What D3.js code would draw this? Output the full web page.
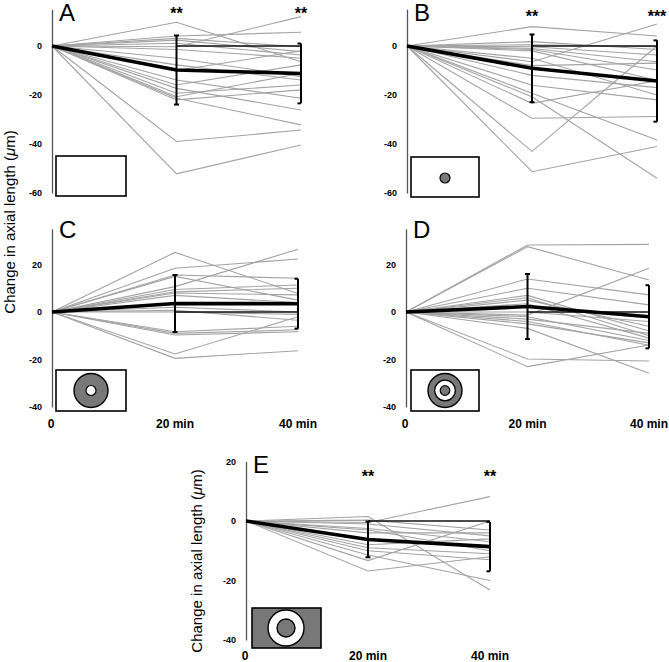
<!DOCTYPE html>
<html>
<head>
<meta charset="utf-8">
<script src="https://cdn.jsdelivr.net/npm/d3@7"></script>
<style>
  html, body { margin: 0; padding: 0; background: #fff; }
  svg { display: block; }
  text { font-family: Arial, "Liberation Sans", Helvetica, sans-serif; }
</style>
</head>
<body>
<svg id="chart" width="669" height="662"></svg>
<script>
// ---------------- DATA ----------------
const times = [0, 20, 40];
const xLabels = ["0", "20 min", "40 min"];
const yTitle = "Change in axial length (";

// individual subjects: change at 20 min and at 40 min (µm)
const a20 = [9.7, 4.1, 2.4, 1.1, -0.3, -1.4, 3.1, -7.7, -13.9, -5, -15.9, -17.3, -19.3, -20.7, -21.3, -22, -39, -52.2, -10];
const a40 = [-6.4, 5.6, -2.3, -3.7, 12, -5, -0.3, -13.9, -21.3, -12.5, -7.7, -26.1, -15.9, -11.1, -32.2, -17.9, -34.3, -40.4, -2];
const aMean = [0, -9.8, -11.2];
const aSD = [0, 14.1, 12.2];
const aStars = ["**", "**"];

const b20 = [7.9, 1.8, 0.5, -0.3, -1, -1.4, -2, -6.4, -8, -12, -16, -19.3, -20.7, -23.4, -29.5, -43, -51.3, -5];
const b40 = [4.1, -1.4, -0.3, -3.7, -6.4, -9.8, -14, 9, -7, -17, -22, -38.4, -54, -14.2, -28.8, 0, -41, -20];
const bMean = [0, -9.1, -14.3];
const bSD = [0, 13.8, 16.6];
const bStars = ["**", "***"];

const c20 = [25.1, 18.4, 15.6, 15, 10.7, 9.5, 8.5, 8, 7, 0.7, 0, -8.3, -9, -9.7, -17.7, -19.5, 2];
const c40 = [7.8, 22.3, 14.2, 5, 26.4, 11.4, 10, 7.2, 4, -3.5, -1, -6, -7.5, -8.3, -2, -16.3, 0];
const cMean = [0, 3.6, 3.5];
const cSD = [0, 12, 10.5];
const cStars = ["", ""];

const d20 = [28.2, 27.5, 13.9, 10, 7, 6, 5, 3.5, -1.3, -2, -3, -4, -5, -6.9, -19.8, -23, 0];
const d40 = [28.5, 13.5, 7.2, 3, -8, -10, -6, -11, 18.4, -12, -9, -14, -13, -25.8, -20.6, -13.9, -4];
const dMean = [0, 2.3, -2];
const dSD = [0, 13.7, 13.3];
const dStars = ["", ""];

const e20 = [-0.5, 1.5, 0.3, -1, -2.5, -4, -6, -8, -9, -10, -11.4, -13.3, -16.8, -3];
const e40 = [8.2, -23.2, -3, -5, -7, -4, -9, -6, -11, -13, -20, 0, -12, -10];
const eMean = [0, -6.2, -8.6];
const eSD = [0, 6, 8.3];
const eStars = ["**", "**"];

const ticksAB = [0, -20, -40, -60];
const ticksCDE = [20, 0, -20, -40];

// ---------------- LAYOUT ----------------
const panels = [
  { id: "A", v20: a20, v40: a40, mean: aMean, sd: aSD, stars: aStars, ticks: ticksAB,
    dom: [-60, 15], xr: [52, 301], yr: [193, 9.25], icon: "none",
    rect: [56, 156, 70, 40], xlab: false, starY: 19, letterY: 21 },
  { id: "B", v20: b20, v40: b40, mean: bMean, sd: bSD, stars: bStars, ticks: ticksAB,
    dom: [-60, 15], xr: [407, 657], yr: [193, 9.25], icon: "dot",
    rect: [411, 157, 68, 40], xlab: false, starY: 22, letterY: 21 },
  { id: "C", v20: c20, v40: c40, mean: cMean, sd: cSD, stars: cStars, ticks: ticksCDE,
    dom: [-40, 35], xr: [52, 298], yr: [407, 228.9], icon: "ring",
    rect: [56, 370, 70, 41], xlab: true, labY: 428, letterY: 238 },
  { id: "D", v20: d20, v40: d40, mean: dMean, sd: dSD, stars: dStars, ticks: ticksCDE,
    dom: [-40, 35], xr: [406, 649], yr: [407, 228.9], icon: "target",
    rect: [411, 370, 68, 41], xlab: true, labY: 428, letterY: 238 },
  { id: "E", v20: e20, v40: e40, mean: eMean, sd: eSD, stars: eStars, ticks: ticksCDE,
    dom: [-40, 20], xr: [246, 490], yr: [640, 461.5], icon: "annulus",
    rect: [252, 608, 69, 40], xlab: true, labY: 660, starY: 482, letterY: 473 }
];

const svg = d3.select("#chart");
const GRAY = "#a3a3a3";
const ICON_GRAY = "#787878";

panels.forEach(p => {
  const g = svg.append("g");
  const x = d3.scaleLinear().domain([0, 40]).range(p.xr);
  const y = d3.scaleLinear().domain(p.dom).range(p.yr);

  // axis (vertical line, labels only)
  const ax = g.append("g")
    .attr("transform", `translate(${p.xr[0]},0)`)
    .call(d3.axisLeft(y).tickValues(p.ticks).tickSize(0).tickSizeOuter(0).tickPadding(10)
      .tickFormat(d => String(d)));
  ax.select(".domain").attr("stroke", "#555").attr("stroke-width", 1.3);
  ax.selectAll("text").attr("font-size", 9).attr("font-weight", "bold").attr("fill", "#000")
    .attr("font-family", "Arial, 'Liberation Sans', sans-serif");

  // individual lines
  const line = d3.line().x((d, i) => x(times[i])).y(d => y(d));
  const subjects = p.v20.map((v, i) => [0, v, p.v40[i]]);
  g.append("g").selectAll("path").data(subjects).join("path")
    .attr("d", line).attr("fill", "none").attr("stroke", GRAY).attr("stroke-width", 1.1);

  // zero reference segment between 20 and 40 min
  g.append("line").attr("x1", x(20)).attr("x2", x(40)).attr("y1", y(0)).attr("y2", y(0))
    .attr("stroke", "#111").attr("stroke-width", 1.5);

  // mean line
  g.append("path").attr("d", line(p.mean)).attr("fill", "none")
    .attr("stroke", "#000").attr("stroke-width", 3.6).attr("stroke-linejoin", "round");

  // error bars
  [1, 2].forEach(i => {
    const xi = x(times[i]);
    const top = y(p.mean[i] + p.sd[i]), bot = y(p.mean[i] - p.sd[i]);
    g.append("line").attr("x1", xi).attr("x2", xi).attr("y1", top).attr("y2", bot)
      .attr("stroke", "#000").attr("stroke-width", 2);
    const l = i === 1 ? 2.5 : 3.5, r = i === 1 ? 2.5 : 0;
    [top, bot].forEach(yy => {
      g.append("line").attr("x1", xi - l).attr("x2", xi + r).attr("y1", yy).attr("y2", yy)
        .attr("stroke", "#000").attr("stroke-width", 2);
    });
    if (p.stars[i - 1]) {
      g.append("text").attr("x", xi).attr("y", p.starY).attr("text-anchor", "middle")
        .attr("font-size", 16).attr("font-weight", "bold").text(p.stars[i - 1]);
    }
  });

  // panel letter
  g.append("text").attr("x", p.xr[0] + 7).attr("y", p.letterY)
    .attr("font-size", 24).text(p.id);

  // x labels
  if (p.xlab) {
    g.append("g").selectAll("text").data(times).join("text")
      .attr("x", d => x(d) + (d === 0 ? -1 : 0)).attr("y", p.labY).attr("text-anchor", "middle")
      .attr("font-size", 12).attr("font-weight", "bold").text((d, i) => xLabels[i]);
  }

  // inset stimulus icon
  const [rx, ry, rw, rh] = p.rect;
  g.append("rect").attr("x", rx).attr("y", ry).attr("width", rw).attr("height", rh)
    .attr("fill", p.icon === "annulus" ? ICON_GRAY : "#fff").attr("stroke", "#000").attr("stroke-width", 1.6);
  const cy = ry + rh / 2;
  const ccx = rx + 35;
  if (p.icon === "dot") {
    g.append("circle").attr("cx", ccx - 1).attr("cy", cy + 1).attr("r", 5).attr("fill", ICON_GRAY).attr("stroke", "#000").attr("stroke-width", 1.2);
  } else if (p.icon === "ring") {
    g.append("circle").attr("cx", ccx).attr("cy", cy).attr("r", 17).attr("fill", ICON_GRAY).attr("stroke", "#000").attr("stroke-width", 1.4);
    g.append("circle").attr("cx", ccx).attr("cy", cy).attr("r", 5).attr("fill", "#fff").attr("stroke", "#000").attr("stroke-width", 1.2);
  } else if (p.icon === "target") {
    g.append("circle").attr("cx", ccx - 1).attr("cy", cy).attr("r", 17).attr("fill", ICON_GRAY).attr("stroke", "#000").attr("stroke-width", 1.4);
    g.append("circle").attr("cx", ccx - 1).attr("cy", cy).attr("r", 10.3).attr("fill", "#fff").attr("stroke", "#000").attr("stroke-width", 1.2);
    g.append("circle").attr("cx", ccx - 1).attr("cy", cy).attr("r", 4.8).attr("fill", ICON_GRAY).attr("stroke", "#000").attr("stroke-width", 1.2);
  } else if (p.icon === "annulus") {
    g.append("circle").attr("cx", ccx - 1).attr("cy", cy).attr("r", 18).attr("fill", "#fff").attr("stroke", "#000").attr("stroke-width", 1.4);
    g.append("circle").attr("cx", ccx - 1).attr("cy", cy).attr("r", 9).attr("fill", ICON_GRAY).attr("stroke", "#000").attr("stroke-width", 1.4);
  }
});

// y-axis titles
function yTitleText(tx, ty) {
  const t = svg.append("text").attr("transform", `translate(${tx},${ty}) rotate(-90)`)
    .attr("text-anchor", "middle").attr("font-size", 15);
  t.append("tspan").text(yTitle);
  t.append("tspan").attr("font-style", "italic").text("\u03bc");
  t.append("tspan").text("m)");
}
yTitleText(15, 222);
yTitleText(202, 561);
</script>
</body>
</html>
